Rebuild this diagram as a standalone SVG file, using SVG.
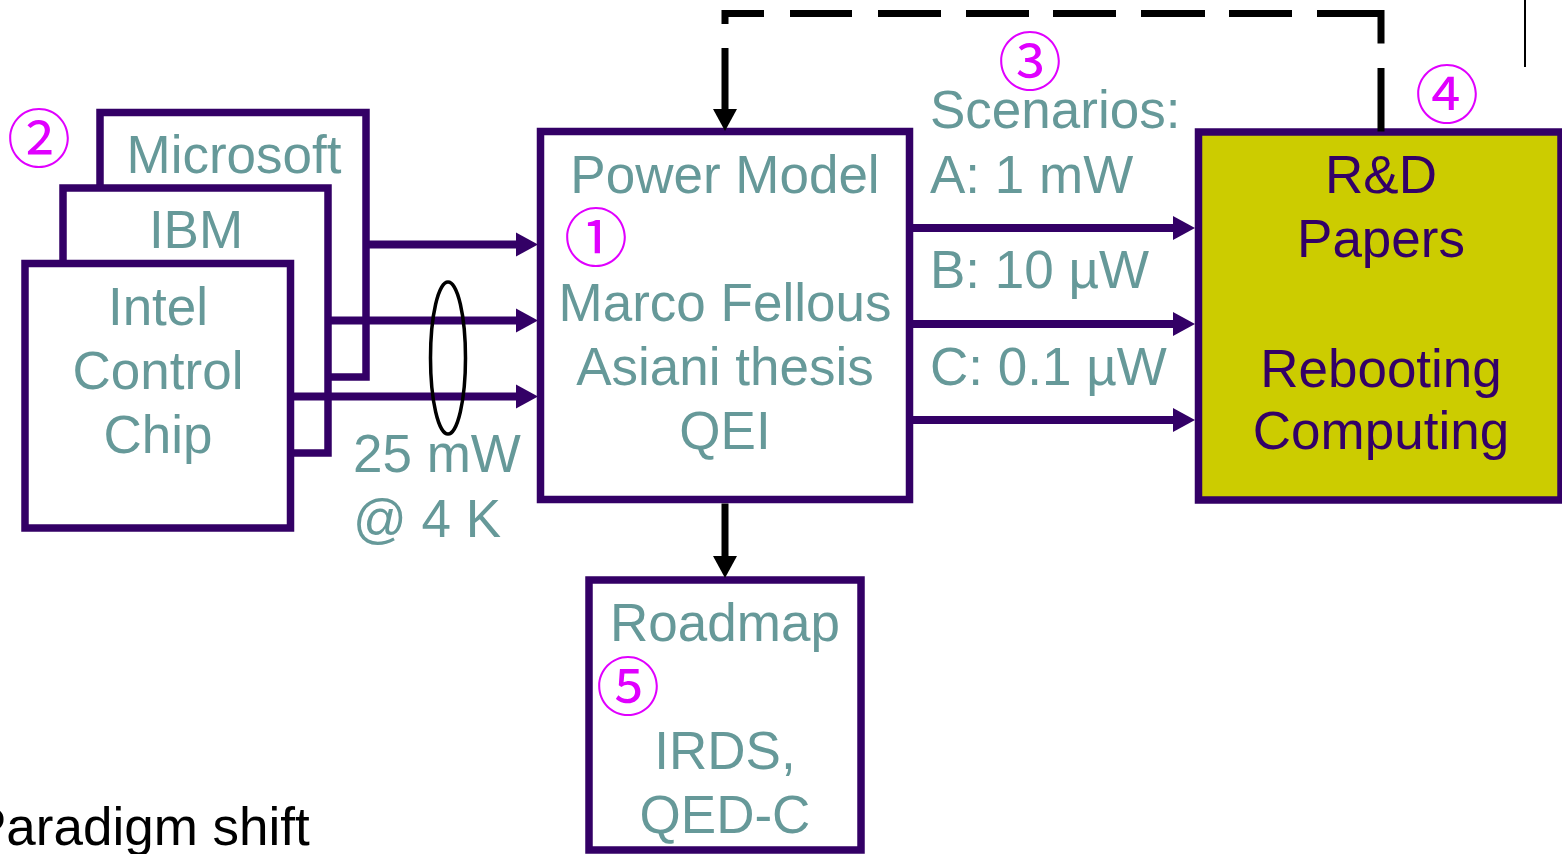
<svg xmlns="http://www.w3.org/2000/svg" width="1562" height="854" viewBox="0 0 1562 854">
<style>
.box{fill:#fff;stroke:#330066;stroke-width:7.5}
.yel{fill:#cccc00;stroke:#330066;stroke-width:7.5}
.t{font-family:"Liberation Sans",Arial,sans-serif;font-size:53px;fill:#669999}
.c{text-anchor:middle}
.p{fill:#330066}
.k{fill:#000}
.num{font-family:"Noto Sans CJK JP","DejaVu Sans",sans-serif;font-size:64px;fill:#e000ff;text-anchor:middle}
.pa{fill:none;stroke:#330066;stroke-width:8}
.ka{fill:none;stroke:#000;stroke-width:7}
</style>
<defs>
<marker id="ap" markerUnits="userSpaceOnUse" markerWidth="24" markerHeight="26" viewBox="0 -13 24 26" refX="1" refY="0" orient="auto">
<path d="M0,-12 L22,0 L0,12 z" fill="#330066"/>
</marker>
<marker id="ak" markerUnits="userSpaceOnUse" markerWidth="24" markerHeight="26" viewBox="0 -13 24 26" refX="1" refY="0" orient="auto">
<path d="M0,-12 L22,0 L0,12 z" fill="#000"/>
</marker>
</defs>
<rect width="1562" height="854" fill="#fff"/>

<g id="microsoft">
<rect class="box" x="100" y="112.5" width="266" height="264.5"/>
<text class="t c" x="234" y="173">Microsoft</text>
</g>
<g id="ibm">
<rect class="box" x="63" y="188" width="265" height="265"/>
<text class="t c" x="196" y="248">IBM</text>
</g>
<g id="intel">
<rect class="box" x="25" y="263.5" width="265.5" height="264.5"/>
<text class="t c" x="158" y="325">Intel</text>
<text class="t c" x="158" y="389">Control</text>
<text class="t c" x="158" y="453">Chip</text>
</g>
<g id="power-model">
<rect class="box" x="540.5" y="131.5" width="369" height="368"/>
<text class="t c" x="725" y="193">Power Model</text>
<text class="t c" x="725" y="321">Marco Fellous</text>
<text class="t c" x="725" y="385">Asiani thesis</text>
<text class="t c" x="725" y="449">QEI</text>
</g>
<g id="rd-papers">
<rect class="yel" x="1198.5" y="132" width="362.5" height="368"/>
<text class="t c p" x="1381" y="193">R&amp;D</text>
<text class="t c p" x="1381" y="257">Papers</text>
<text class="t c p" x="1381" y="387">Rebooting</text>
<text class="t c p" x="1381" y="449">Computing</text>
</g>
<g id="roadmap">
<rect class="box" x="589" y="580" width="272" height="270"/>
<text class="t c" x="725" y="641">Roadmap</text>
<text class="t c" x="725" y="769">IRDS,</text>
<text class="t c" x="725" y="833">QED-C</text>
</g>

<g id="connectors">
<path class="pa" d="M366,244.5 H517" marker-end="url(#ap)"/>
<path class="pa" d="M328,320.5 H517" marker-end="url(#ap)"/>
<path class="pa" d="M290,396.5 H517" marker-end="url(#ap)"/>
<path class="pa" d="M909.5,228 H1174" marker-end="url(#ap)"/>
<path class="pa" d="M909.5,324 H1174" marker-end="url(#ap)"/>
<path class="pa" d="M909.5,420 H1174" marker-end="url(#ap)"/>
<path class="ka" d="M725,503.5 V557" marker-end="url(#ak)"/>
<path class="ka" d="M1381,131.5 V13.5 H725 V110" stroke-dasharray="63.5 24.5 94 25 63 24 64 25 63 24 63 25 63 26 62 26 49.5 24 200" marker-end="url(#ak)"/>
<ellipse cx="448" cy="358" rx="17.5" ry="76" fill="none" stroke="#000" stroke-width="3.5"/>
</g>

<g id="labels">
<text class="t" x="353" y="472">25 mW</text>
<text class="t" x="353" y="537">@ 4 K</text>
<text class="t" x="930" y="128">Scenarios:</text>
<text class="t" x="930" y="193">A: 1 mW</text>
<text class="t" x="930" y="288">B: 10 µW</text>
<text class="t" x="930" y="385">C: 0.1 µW</text>
<text class="t k" x="-29" y="845">Paradigm shift</text>
<text class="num" x="39" y="162">②</text>
<text class="num" x="596" y="261">①</text>
<text class="num" x="1030" y="85">③</text>
<text class="num" x="1447" y="118">④</text>
<text class="num" x="628" y="710">⑤</text>
</g>
<line x1="1525" y1="0" x2="1525" y2="67" stroke="#000" stroke-width="2"/>
</svg>
